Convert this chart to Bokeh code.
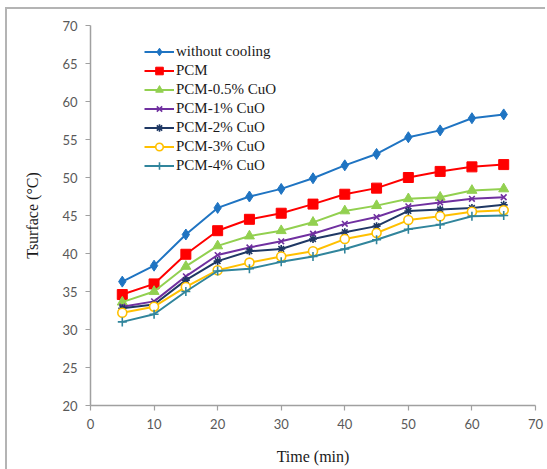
from bokeh.plotting import figure
from bokeh.models import Range1d, FixedTicker, Legend
from bokeh.embed import file_html
from bokeh.resources import INLINE

time_min = [5, 10, 15, 20, 25, 30, 35, 40, 45, 50, 55, 60, 65]
without_cooling = [36.3, 38.4, 42.5, 46.0, 47.5, 48.5, 49.9, 51.6, 53.1, 55.3, 56.2, 57.8, 58.3]
pcm = [34.6, 36.0, 39.9, 43.0, 44.5, 45.3, 46.5, 47.8, 48.6, 50.0, 50.8, 51.4, 51.7]
pcm_05 = [33.6, 35.0, 38.3, 41.0, 42.3, 43.0, 44.1, 45.6, 46.3, 47.2, 47.4, 48.3, 48.5]
pcm_1 = [33.0, 33.7, 37.0, 39.8, 40.8, 41.6, 42.6, 43.9, 44.8, 46.2, 46.7, 47.2, 47.4]
pcm_2 = [32.8, 33.3, 36.5, 39.0, 40.3, 40.6, 41.9, 42.8, 43.6, 45.6, 45.8, 46.0, 46.4]
pcm_3 = [32.2, 33.0, 35.6, 37.8, 38.8, 39.6, 40.3, 41.9, 42.7, 44.4, 44.9, 45.5, 45.7]
pcm_4 = [31.0, 32.0, 35.0, 37.7, 38.0, 38.9, 39.6, 40.6, 41.8, 43.2, 43.8, 44.9, 45.0]

series_names = ["without cooling", "PCM", "PCM-0.5% CuO", "PCM-1% CuO",
                "PCM-2% CuO", "PCM-3% CuO", "PCM-4% CuO"]
series_values = [without_cooling, pcm, pcm_05, pcm_1, pcm_2, pcm_3, pcm_4]
colors = ["#1F74C2", "#FF0000", "#92D050", "#7030A0", "#1F3864", "#FFC000", "#31859C"]
markers = ["diamond", "square", "triangle", "x", "asterisk", "circle", "cross"]
sizes = [11, 10, 10, 8, 8, 9, 9]

x_ticks = [0, 10, 20, 30, 40, 50, 60, 70]
y_ticks = [20, 25, 30, 35, 40, 45, 50, 55, 60, 65, 70]

p = figure(width=540, height=462, output_backend="svg", toolbar_location=None,
           x_range=Range1d(0, 70), y_range=Range1d(20, 70),
           min_border_left=83, min_border_right=12, min_border_top=16, min_border_bottom=66)
p.styles = {"margin-left": "5px", "margin-top": "7px",
            "border-left": "2px solid #b4b4b4", "border-top": "2px solid #b4b4b4"}
p.background_fill_color = "white"
p.border_fill_color = "white"
p.outline_line_color = None
p.xgrid.grid_line_color = None
p.ygrid.grid_line_color = None

for ax in (p.xaxis[0], p.yaxis[0]):
    ax.axis_line_color = "#A0A0A0"
    ax.axis_line_width = 1.5
    ax.major_tick_line_color = "#A0A0A0"
    ax.major_tick_line_width = 1.2
    ax.major_tick_out = 5
    ax.major_tick_in = 0
    ax.minor_tick_line_color = None
    ax.major_label_text_font = "Lato"
    ax.major_label_text_font_size = "13px"
    ax.major_label_text_color = "#595959"
    ax.major_label_standoff = 8
    ax.axis_label_text_font = "Liberation Serif"
    ax.axis_label_text_font_size = "16px"
    ax.axis_label_text_font_style = "normal"
    ax.axis_label_text_color = "#1a1a1a"

p.xaxis[0].ticker = FixedTicker(ticks=x_ticks)
p.yaxis[0].ticker = FixedTicker(ticks=y_ticks)
p.xaxis[0].axis_label = "Time (min)"
p.yaxis[0].axis_label = "Tsurface (°C)"
p.xaxis[0].axis_label_standoff = 16
p.yaxis[0].axis_label_standoff = 18

items = []
for name, vals, c, m, s in zip(series_names, series_values, colors, markers, sizes):
    ln = p.line(time_min, vals, line_color=c, line_width=2)
    fill = "white" if m == "circle" else c
    sc = p.scatter(time_min, vals, marker=m, size=s, line_color=c, fill_color=fill,
                   line_width=1.6 if m in ("x", "asterisk", "cross", "circle") else 1)
    items.append((name, [ln, sc]))

legend = Legend(items=items, location=(54, 230))
legend.background_fill_alpha = 0
legend.border_line_color = None
legend.padding = 0
legend.margin = 0
legend.spacing = 0
legend.label_height = 19
legend.glyph_height = 19
legend.glyph_width = 30
legend.label_standoff = 2
legend.label_text_font = "Liberation Serif"
legend.label_text_font_size = "15px"
legend.label_text_color = "#1a1a1a"
p.add_layout(legend, "center")

open("out.html", "w").write(file_html(p, INLINE))
